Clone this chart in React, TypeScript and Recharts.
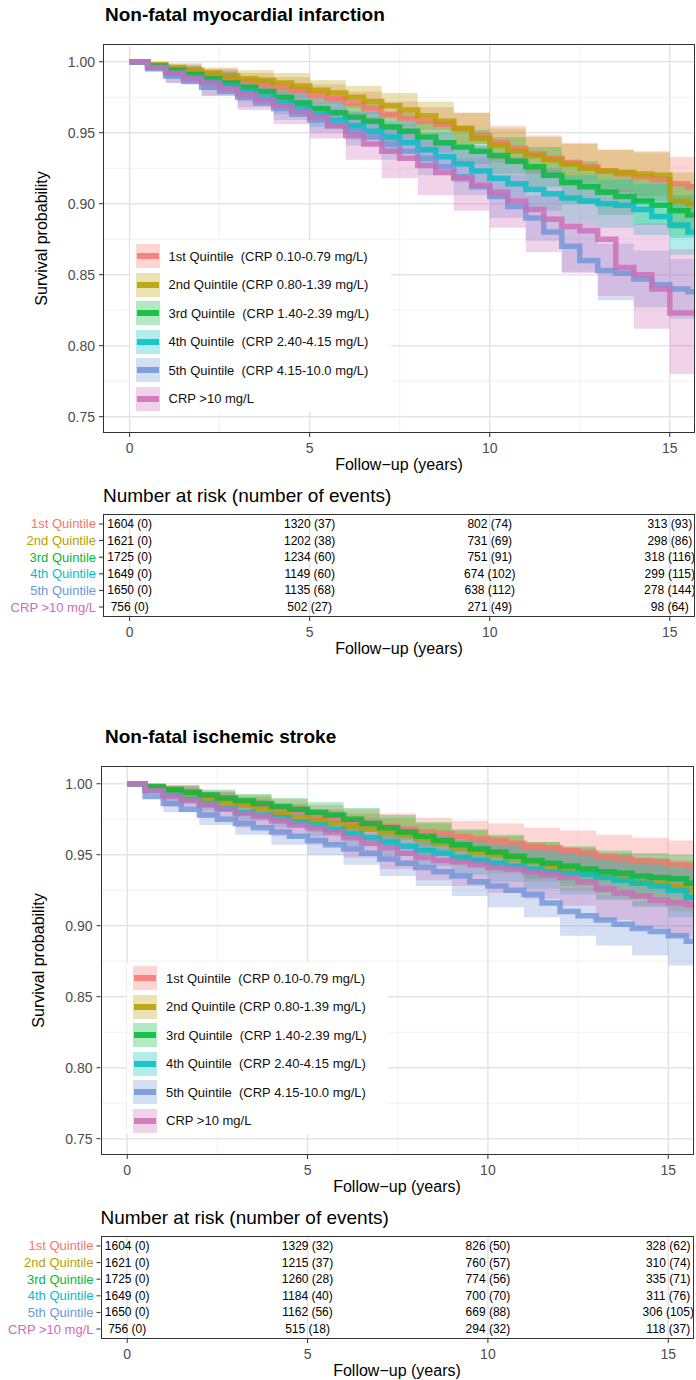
import React from "react";
import {
  ComposedChart,
  ScatterChart,
  Line,
  Area,
  Scatter,
  XAxis,
  YAxis,
  CartesianGrid,
} from "recharts";

const FONT = '"Liberation Sans", Arial, sans-serif';
const GRID_MAJOR = "#E4E4E4";
const GRID_MINOR = "#EEEEEE";
const TICK = "#4D4D4D";
const DARK = "#333333";

// follow-up grid (years) for the curves, and the coarser grid for the CI bands
const TIMES = [0, 0.5, 1, 1.5, 2, 2.5, 3, 3.5, 4, 4.5, 5, 5.5, 6, 6.5, 7, 7.5, 8, 8.5, 9, 9.5, 10, 10.5, 11, 11.5, 12, 12.5, 13, 13.5, 14, 14.5, 15, 15.5, 15.7];
const BAND_TIMES = [0, 1, 2, 3, 4, 5, 6, 7, 8, 9, 10, 11, 12, 13, 14, 15, 15.7];
const RISK_TIMES = [0, 5, 10, 15];

const GROUPS = ["1st Quintile", "2nd Quintile", "3rd Quintile", "4th Quintile", "5th Quintile", "CRP >10 mg/L"];
const LEGEND_LABELS = [
  "1st Quintile  (CRP 0.10-0.79 mg/L)",
  "2nd Quintile (CRP 0.80-1.39 mg/L)",
  "3rd Quintile  (CRP 1.40-2.39 mg/L)",
  "4th Quintile  (CRP 2.40-4.15 mg/L)",
  "5th Quintile  (CRP 4.15-10.0 mg/L)",
  "CRP >10 mg/L",
];
const COLORS = ["#F8766D", "#B79F00", "#00BA38", "#00BFC4", "#6F95D9", "#CC6DB5"];

const X_DOMAIN = [-0.74, 15.7];
const X_TICKS = [0, 5, 10, 15];
const X_MINOR = [2.5, 7.5, 12.5];
const Y_DOMAIN = [0.7385, 1.0125];
const Y_TICKS = [0.75, 0.8, 0.85, 0.9, 0.95, 1];
const Y_MINOR = [0.775, 0.825, 0.875, 0.925, 0.975];

// --- Non-fatal myocardial infarction ---
const MI_SURV = [
  [1, .997, .994, .992, .990, .988, .986, .984, .982, .980, .977, .974, .971, .967, .963, .960, .958, .956, .953, .948, .943, .939, .935, .932, .929, .926, .923, .921, .919, .917, .914, .912, .912],
  [1, .998, .996, .994, .992, .990, .988, .987, .985, .983, .980, .978, .975, .972, .969, .966, .962, .958, .953, .946, .941, .937, .934, .931, .928, .925, .923, .922, .921, .920, .902, .900, .900],
  [1, .997, .994, .991, .988, .985, .982, .979, .975, .971, .967, .964, .961, .958, .954, .951, .947, .943, .940, .937, .934, .930, .926, .920, .915, .912, .908, .905, .902, .899, .895, .892, .892],
  [1, .996, .992, .989, .986, .983, .979, .975, .971, .967, .963, .959, .955, .951, .947, .943, .938, .933, .928, .923, .918, .914, .910, .907, .904, .902, .900, .899, .896, .891, .885, .880, .880],
  [1, .995, .990, .986, .982, .979, .975, .971, .967, .963, .959, .955, .951, .947, .942, .937, .932, .926, .919, .912, .905, .898, .890, .880, .870, .860, .853, .851, .847, .843, .840, .838, .838],
  [1, .996, .992, .988, .985, .981, .977, .973, .969, .965, .961, .955, .948, .942, .937, .932, .927, .922, .918, .913, .908, .902, .896, .889, .884, .881, .875, .855, .850, .840, .823, .823, .823],
];
const MI_LO = [
  [1, .990, .985, .980, .975, .970, .963, .954, .948, .942, .931, .922, .915, .908, .902, .895, .892],
  [1, .992, .987, .982, .978, .973, .967, .960, .952, .942, .929, .921, .914, .908, .905, .882, .879],
  [1, .990, .983, .976, .968, .959, .952, .944, .936, .928, .921, .912, .900, .892, .885, .876, .872],
  [1, .988, .980, .972, .963, .954, .945, .936, .926, .915, .904, .895, .888, .883, .878, .864, .858],
  [1, .985, .976, .968, .959, .950, .941, .931, .920, .906, .890, .874, .852, .832, .827, .819, .816],
  [1, .985, .976, .966, .956, .946, .931, .918, .906, .895, .883, .866, .851, .835, .812, .780, .778],
];
const MI_HI = [
  [1, .997, .995, .992, .989, .984, .979, .972, .968, .964, .955, .948, .943, .938, .936, .933, .932],
  [1, .999, .996, .994, .992, .987, .983, .978, .972, .964, .953, .947, .942, .938, .937, .922, .921],
  [1, .997, .993, .988, .982, .975, .970, .964, .958, .952, .947, .940, .930, .924, .919, .914, .912],
  [1, .996, .992, .986, .979, .972, .965, .958, .950, .941, .932, .925, .920, .917, .914, .906, .902],
  [1, .995, .988, .982, .975, .968, .961, .953, .944, .932, .920, .906, .888, .872, .867, .861, .860],
  [1, .998, .994, .988, .982, .976, .965, .956, .948, .941, .933, .924, .915, .910, .886, .868, .868],
];
const MI_AT_RISK = [
  [1604, 1320, 802, 313],
  [1621, 1202, 731, 298],
  [1725, 1234, 751, 318],
  [1649, 1149, 674, 299],
  [1650, 1135, 638, 278],
  [756, 502, 271, 98],
];
const MI_EVENTS = [
  [0, 37, 74, 93],
  [0, 38, 69, 86],
  [0, 60, 91, 116],
  [0, 60, 102, 115],
  [0, 68, 112, 144],
  [0, 27, 49, 64],
];

// --- Non-fatal ischemic stroke ---
const ST_SURV = [
  [1, .998, .996, .994, .991, .989, .987, .985, .983, .981, .978, .976, .974, .972, .970, .968, .966, .965, .963, .961, .960, .958, .956, .955, .953, .951, .949, .947, .946, .945, .943, .942, .942],
  [1, .997, .995, .992, .989, .987, .985, .982, .979, .976, .974, .972, .970, .968, .966, .964, .961, .958, .955, .952, .950, .947, .945, .942, .940, .937, .935, .933, .931, .930, .928, .925, .925],
  [1, .998, .996, .994, .992, .990, .988, .986, .984, .982, .980, .978, .975, .972, .969, .966, .963, .960, .957, .954, .952, .949, .946, .944, .942, .940, .938, .937, .935, .934, .933, .930, .930],
  [1, .995, .992, .989, .986, .983, .980, .978, .976, .973, .971, .968, .965, .962, .959, .956, .953, .951, .948, .946, .944, .942, .940, .938, .937, .936, .934, .932, .930, .928, .925, .920, .920],
  [1, .991, .986, .982, .978, .975, .972, .969, .966, .963, .960, .957, .954, .951, .947, .944, .941, .938, .935, .931, .928, .925, .922, .916, .910, .907, .904, .901, .898, .896, .893, .889, .889],
  [1, .995, .991, .988, .985, .982, .979, .977, .974, .971, .969, .966, .962, .958, .955, .951, .948, .946, .945, .943, .941, .940, .938, .936, .934, .931, .926, .923, .921, .918, .916, .915, .915],
];
const ST_LO = [
  [1, .993, .987, .982, .977, .971, .966, .961, .956, .952, .948, .943, .939, .934, .930, .926, .924],
  [1, .991, .984, .979, .972, .966, .961, .956, .950, .943, .937, .931, .925, .919, .914, .910, .906],
  [1, .993, .988, .983, .978, .973, .967, .960, .953, .946, .940, .933, .928, .923, .919, .916, .912],
  [1, .988, .981, .974, .969, .963, .956, .949, .942, .936, .931, .926, .922, .918, .913, .906, .900],
  [1, .980, .971, .964, .957, .950, .943, .935, .928, .921, .913, .906, .893, .886, .879, .872, .866],
  [1, .984, .976, .969, .963, .957, .948, .940, .932, .928, .923, .919, .914, .904, .898, .892, .890],
];
const ST_HI = [
  [1, .999, .995, .992, .989, .985, .982, .979, .976, .974, .972, .969, .967, .964, .962, .960, .959],
  [1, .998, .994, .991, .986, .982, .979, .976, .972, .967, .963, .959, .955, .951, .948, .946, .944],
  [1, .999, .996, .993, .990, .987, .983, .978, .973, .968, .964, .959, .956, .953, .951, .950, .948],
  [1, .996, .991, .986, .983, .979, .974, .969, .964, .960, .957, .954, .952, .950, .947, .944, .940],
  [1, .992, .985, .980, .975, .970, .965, .959, .954, .949, .943, .938, .927, .922, .917, .914, .912],
  [1, .998, .994, .989, .985, .981, .976, .970, .964, .962, .959, .957, .954, .948, .944, .940, .940],
];
const ST_AT_RISK = [
  [1604, 1329, 826, 328],
  [1621, 1215, 760, 310],
  [1725, 1260, 774, 335],
  [1649, 1184, 700, 311],
  [1650, 1162, 669, 306],
  [756, 515, 294, 118],
];
const ST_EVENTS = [
  [0, 32, 50, 62],
  [0, 37, 57, 74],
  [0, 28, 56, 71],
  [0, 40, 70, 76],
  [0, 56, 88, 105],
  [0, 18, 32, 37],
];

function buildCurveTable(surv: number[][], lo: number[][], hi: number[][]) {
  return TIMES.map((t, i) => {
    const row: any = { t };
    const b = BAND_TIMES.indexOf(t);
    surv.forEach((s, g) => {
      row[`s${g}`] = s[i];
      row[`b${g}`] = b >= 0 ? [lo[g][b], hi[g][b]] : [null, null];
    });
    return row;
  });
}

function buildRiskRows(atRisk: number[][], events: number[][]) {
  const rows: any[] = [];
  atRisk.forEach((r, g) => {
    RISK_TIMES.forEach((t, k) => {
      rows.push({ t, row: g + 1, label: `${r[k]} (${events[g][k]})` });
    });
  });
  return rows;
}

const KM_H = 480;
const KM_TOP = 44;
const KM_PLOT_H = 389;
const TABLE_TOP = 500;
const TABLE_MARGIN = 14;
const TABLE_PLOT_H = 103;

function axisTitle(p: any) {
  return (
    <text x={p.viewBox.x + p.viewBox.width / 2} y={p.viewBox.y + 31} textAnchor="middle" dominantBaseline="central" fontSize={16} fill="#000">
      Follow−up (years)
    </text>
  );
}

function KMPanel({ surv, lo, hi, plotLeft, plotRight }: any) {
  const data = buildCurveTable(surv, lo, hi);
  return (
    <ComposedChart
      width={696}
      height={KM_H}
      data={data}
      margin={{ top: KM_TOP, right: 696 - plotRight, bottom: 0, left: 0 }}
    >
      <CartesianGrid horizontalValues={Y_MINOR} verticalValues={X_MINOR} stroke={GRID_MINOR} strokeWidth={0.8} />
      <CartesianGrid horizontalValues={Y_TICKS} verticalValues={X_TICKS} stroke={GRID_MAJOR} strokeWidth={1.5} />
      <XAxis
        dataKey="t"
        type="number"
        domain={X_DOMAIN}
        ticks={X_TICKS}
        allowDataOverflow
        height={KM_H - KM_TOP - KM_PLOT_H}
        axisLine={false}
        tickSize={4}
        tickMargin={6}
        tickLine={{ stroke: DARK }}
        tick={{ fill: TICK, fontSize: 14 }}
        label={{ content: axisTitle }}
      />
      <YAxis
        type="number"
        domain={Y_DOMAIN}
        ticks={Y_TICKS}
        allowDataOverflow
        width={plotLeft}
        axisLine={false}
        tickSize={4}
        tickMargin={4}
        tickLine={{ stroke: DARK }}
        tick={{ fill: TICK, fontSize: 14 }}
        tickFormatter={(v: number) => v.toFixed(2)}
        label={{
          content: (p: any) => {
            const x = p.viewBox.x + p.viewBox.width - 62;
            const y = p.viewBox.y + p.viewBox.height / 2;
            return (
              <text x={x} y={y} transform={`rotate(-90 ${x} ${y})`} textAnchor="middle" dominantBaseline="central" fontSize={16} fill="#000">
                Survival probability
              </text>
            );
          },
        }}
      />
      {GROUPS.map((g, i) => (
        <Area
          key={`b${i}`}
          dataKey={`b${i}`}
          type="stepAfter"
          stroke="none"
          fill={COLORS[i]}
          fillOpacity={0.3}
          connectNulls
          activeDot={false}
          isAnimationActive={false}
        />
      ))}
      {GROUPS.map((g, i) => (
        <Line
          key={`s${i}`}
          dataKey={`s${i}`}
          type="stepAfter"
          stroke={COLORS[i]}
          strokeOpacity={0.8}
          strokeWidth={5.5}
          dot={false}
          activeDot={false}
          isAnimationActive={false}
        />
      ))}
    </ComposedChart>
  );
}

function RiskTable({ atRisk, events, plotLeft, plotRight }: any) {
  const data = buildRiskRows(atRisk, events);
  return (
    <ScatterChart
      width={696}
      height={162}
      margin={{ top: TABLE_MARGIN, right: 696 - plotRight, bottom: 0, left: 0 }}
    >
      <CartesianGrid horizontal={false} verticalValues={X_TICKS} stroke={GRID_MAJOR} strokeWidth={1.5} />
      <XAxis
        dataKey="t"
        type="number"
        domain={X_DOMAIN}
        ticks={X_TICKS}
        allowDataOverflow
        height={162 - TABLE_MARGIN - TABLE_PLOT_H}
        axisLine={false}
        tickSize={4}
        tickMargin={6}
        tickLine={{ stroke: DARK }}
        tick={{ fill: TICK, fontSize: 14 }}
        label={{ content: axisTitle }}
      />
      <YAxis
        dataKey="row"
        type="number"
        domain={[0.4, 6.6]}
        reversed
        ticks={[1, 2, 3, 4, 5, 6]}
        interval={0}
        allowDataOverflow
        width={plotLeft}
        axisLine={false}
        tickSize={4}
        tickMargin={3}
        tickLine={{ stroke: DARK }}
        tick={(p: any) => (
          <text x={p.x} y={p.y} textAnchor="end" dominantBaseline="central" fontSize={13} fill={COLORS[p.payload.value - 1]}>
            {GROUPS[p.payload.value - 1]}
          </text>
        )}
      />
      <Scatter
        data={data}
        isAnimationActive={false}
        shape={(p: any) => (
          <text x={p.cx} y={p.cy} textAnchor="middle" dominantBaseline="central" fontSize={12} fill="#000">
            {p.payload.label}
          </text>
        )}
      />
    </ScatterChart>
  );
}

function Legend({ left }: { left: number }) {
  return (
    <div style={{ position: "absolute", left, top: 240, width: 261, height: 172, background: "#fff" }}>
      {LEGEND_LABELS.map((label, i) => (
        <div key={label} style={{ position: "absolute", left: 6, top: 4 + i * 28.5, height: 24, display: "flex", alignItems: "center" }}>
          <div style={{ position: "relative", width: 24, height: 24, background: COLORS[i] + "4D" }}>
            <div style={{ position: "absolute", left: 1, right: 1, top: 9, height: 6, background: COLORS[i], opacity: 0.85 }} />
          </div>
          <span style={{ marginLeft: 9, fontSize: 13, whiteSpace: "pre", color: "#111" }}>{label}</span>
        </div>
      ))}
    </div>
  );
}

function Section({ top, title, surv, lo, hi, atRisk, events, plotLeft, plotRight }: any) {
  return (
    <div style={{ position: "absolute", left: 0, top, width: 696, height: 700 }}>
      <div style={{ position: "absolute", left: 105, top: 4, fontSize: 19, fontWeight: "bold", lineHeight: "22px" }}>{title}</div>
      <div style={{ position: "absolute", left: 0, top: 0 }}>
        <KMPanel surv={surv} lo={lo} hi={hi} plotLeft={plotLeft} plotRight={plotRight} />
      </div>
      <div style={{ position: "absolute", left: plotLeft, top: KM_TOP, width: plotRight - plotLeft, height: KM_PLOT_H, border: `1px solid ${DARK}`, boxSizing: "border-box", pointerEvents: "none" }} />
      <Legend left={plotLeft + 26.5} />
      <div style={{ position: "absolute", left: plotLeft, top: 485, fontSize: 19, lineHeight: "22px" }}>Number at risk (number of events)</div>
      <div style={{ position: "absolute", left: 0, top: TABLE_TOP }}>
        <RiskTable atRisk={atRisk} events={events} plotLeft={plotLeft} plotRight={plotRight} />
      </div>
      <div style={{ position: "absolute", left: plotLeft, top: TABLE_TOP + TABLE_MARGIN, width: plotRight - plotLeft, height: TABLE_PLOT_H, border: `1px solid ${DARK}`, boxSizing: "border-box", pointerEvents: "none" }} />
    </div>
  );
}

export default function App() {
  return (
    <div style={{ position: "absolute", left: 0, top: 0, width: 696, height: 1380, background: "#fff", fontFamily: FONT, color: "#000" }}>
      <Section
        top={0}
        title="Non-fatal myocardial infarction"
        surv={MI_SURV}
        lo={MI_LO}
        hi={MI_HI}
        atRisk={MI_AT_RISK}
        events={MI_EVENTS}
        plotLeft={103}
        plotRight={695}
      />
      <Section
        top={722}
        title="Non-fatal ischemic stroke"
        surv={ST_SURV}
        lo={ST_LO}
        hi={ST_HI}
        atRisk={ST_AT_RISK}
        events={ST_EVENTS}
        plotLeft={100.5}
        plotRight={693.5}
      />
    </div>
  );
}
